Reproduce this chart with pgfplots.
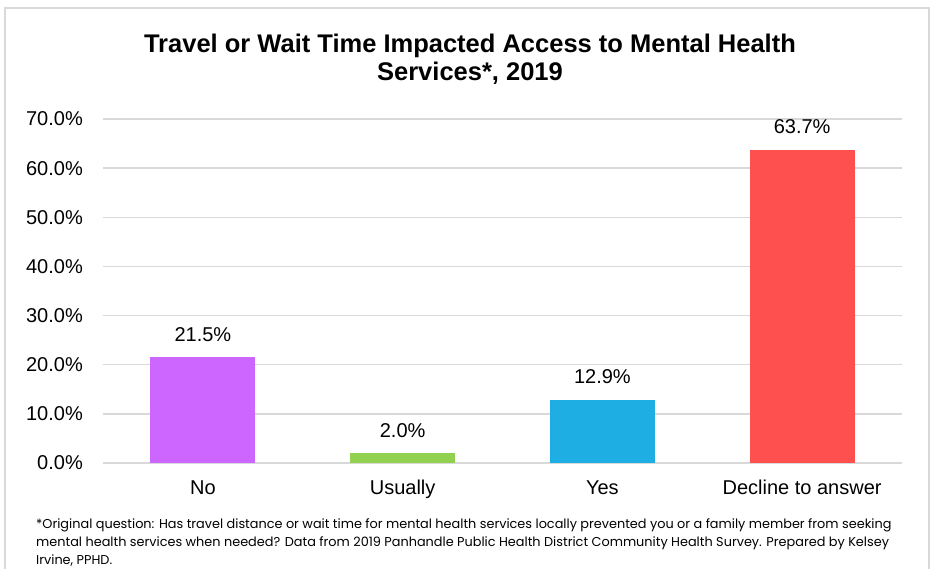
\documentclass[border=0pt]{standalone}
\usepackage{pgfplots}
\pgfplotsset{compat=1.18}
\usepackage{fontspec}
\setmainfont{Liberation Sans}
\newfontfamily\gothic{Poppins}
\definecolor{gridgray}{HTML}{D9D9D9}
\definecolor{cNo}{HTML}{CC66FF}
\definecolor{cUs}{HTML}{92D050}
\definecolor{cYes}{HTML}{1FAEE3}
\definecolor{cDec}{HTML}{FF5050}
\begin{document}
\begin{tikzpicture}
\useasboundingbox (0,0) rectangle (936pt,569pt);
\draw[gridgray, line width=1.5pt] (5pt,-10pt) -- (5pt,561pt) -- (929pt,561pt) -- (929pt,-10pt);
\node[align=center, font=\bfseries\fontsize{25.5}{28}\selectfont] at (470pt,510pt)
  {Travel or Wait Time Impacted Access to Mental Health\\Services*, 2019};
\begin{axis}[
  at={(103pt,106pt)}, anchor=south west,
  scale only axis, width=799pt, height=344pt,
  xmin=-0.5, xmax=3.5, ymin=0, ymax=70,
  ytick={0,10,...,70},
  yticklabel={\pgfmathprintnumber[fixed,fixed zerofill,precision=1]{\tick}\%},
  /pgf/number format/assume math mode=true,
  ymajorgrids, grid style={color=gridgray, line width=1.5pt},
  axis line style={draw=none},
  major tick length=0pt,
  xtick={0,1,2,3},
  xticklabels={No,Usually,Yes,Decline to answer},
  tick label style={font=\fontsize{20}{24}\selectfont},
  yticklabel style={anchor=east, inner sep=0pt, xshift=-20pt},
  xticklabel style={anchor=base, inner sep=0pt, yshift=-32pt},
  ybar, bar width=105pt,
  nodes near coords={\pgfmathprintnumber[fixed,fixed zerofill,precision=1]{\pgfplotspointmeta}\%},
  nodes near coords style={font=\fontsize{20}{24}\selectfont, anchor=base, inner sep=0pt, yshift=16pt, text=black},
  clip=false,
]
\addplot[fill=cNo, draw=none, bar shift=0pt] coordinates {(0,21.5)};
\addplot[fill=cUs, draw=none, bar shift=0pt] coordinates {(1,2.0)};
\addplot[fill=cYes, draw=none, bar shift=0pt] coordinates {(2,12.9)};
\addplot[fill=cDec, draw=none, bar shift=0pt] coordinates {(3,63.7)};
\end{axis}
\node[anchor=base west, align=left, inner sep=0pt, font=\gothic\fontsize{12.85}{18}\selectfont] at (36pt,4pt)
  {*Original question: Has travel distance or wait time for mental health services locally prevented you or a family member from seeking\\
   mental health services when needed? Data from 2019 Panhandle Public Health District Community Health Survey. Prepared by Kelsey\\
   Irvine, PPHD.};
\end{tikzpicture}
\end{document}
